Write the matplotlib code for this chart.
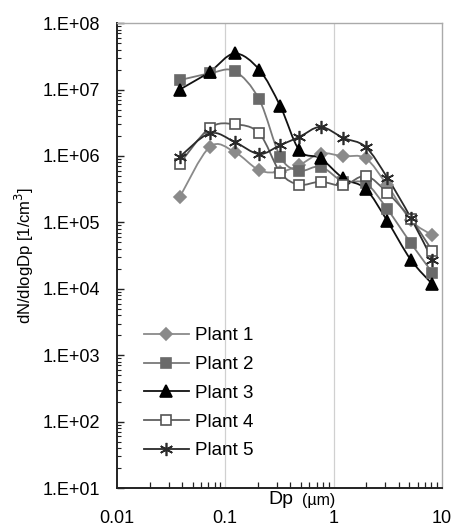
import numpy as np
import matplotlib
matplotlib.use('Agg')
import matplotlib.pyplot as plt
from matplotlib.path import Path
from matplotlib.patches import PathPatch
from matplotlib.lines import Line2D
from matplotlib.ticker import LogLocator, FixedLocator, NullFormatter

plt.rcParams['font.family'] = ['Liberation Sans', 'DejaVu Sans']

# particle diameter (um) and dN/dlogDp for each plant
dp = [0.038, 0.072, 0.122, 0.206, 0.323, 0.484, 0.76, 1.23, 1.98, 3.14, 5.16, 8.2]
plant1 = [2.4e5, 1.37e6, 1.15e6, 6.1e5, 5.8e5, 7.3e5, 1.09e6, 9.9e5, 9.2e5, 3.6e5, 1.08e5, 6.4e4]
plant2 = [1.39e7, 1.75e7, 1.9e7, 7.1e6, 9.7e5, 6.0e5, 6.9e5, 4.1e5, 3.9e5, 1.58e5, 4.9e4, 1.74e4]
plant3 = [1.0e7, 1.85e7, 3.5e7, 2.0e7, 5.6e6, 1.22e6, 9.2e5, 4.6e5, 3.2e5, 1.05e5, 2.75e4, 1.17e4]
plant4 = [7.7e5, 2.65e6, 3.0e6, 2.2e6, 5.6e5, 3.7e5, 4.1e5, 3.6e5, 5.0e5, 2.8e5, 1.14e5, 3.7e4]
plant5 = [9.7e5, 2.2e6, 1.63e6, 1.07e6, 1.46e6, 1.94e6, 2.74e6, 1.87e6, 1.37e6, 4.7e5, 1.18e5, 2.7e4]

labels = ['Plant 1', 'Plant 2', 'Plant 3', 'Plant 4', 'Plant 5']
series = [plant1, plant2, plant3, plant4, plant5]

# line colour, marker, face, edge, size
styles = [
    ('#8a8a8a', 'D', '#8a8a8a', '#8a8a8a', 6.3),
    ('#7a7a7a', 's', '#6a6a6a', '#6a6a6a', 6.8),
    ('#111111', '^', '#000000', '#000000', 8.3),
    ('#606060', 's', 'white', '#555555', 6.8),
    ('#2a2a2a', (6, 2, 0), '#2a2a2a', '#2a2a2a', 9.5),
]


def smooth_path(x, y):
    # cubic Bezier through the points, control points taken in log-log space
    lx, ly = np.log10(x), np.log10(y)
    pts = np.column_stack([lx, ly])
    n = len(pts)
    verts = [pts[0]]
    codes = [Path.MOVETO]
    for i in range(n - 1):
        p0 = pts[i - 1] if i > 0 else pts[i]
        p1, p2 = pts[i], pts[i + 1]
        p3 = pts[i + 2] if i + 2 < n else pts[i + 1]
        c1 = p1 + (p2 - p0) / 6.0
        c2 = p2 - (p3 - p1) / 6.0
        verts += [c1, c2, p2]
        codes += [Path.CURVE4] * 3
    verts = 10 ** np.array(verts)
    return Path(verts, codes)


fig = plt.figure(figsize=(4.55, 5.27), dpi=100)
ax = fig.add_axes([0.257, 0.074, 0.714, 0.882])
ax.set_xscale('log')
ax.set_yscale('log')
ax.set_xlim(0.01, 10)
ax.set_ylim(10, 1e8)

handles = []
for vals, lab, (lc, mk, fc, ec, ms) in zip(series, labels, styles):
    ax.add_patch(PathPatch(smooth_path(dp, vals), facecolor='none',
                           edgecolor=lc, lw=1.3, zorder=2))
    ax.plot(dp, vals, linestyle='none', marker=mk, ms=ms, mfc=fc, mec=ec,
            mew=1.2, zorder=3)
    handles.append(Line2D([], [], color=lc, lw=1.3, marker=mk, ms=ms,
                          mfc=fc, mec=ec, mew=1.2))

ax.legend(handles, labels, loc='lower left', bbox_to_anchor=(0.025, 0.021),
          frameon=False, fontsize=13.5, handlelength=2.4, handletextpad=0.35,
          labelspacing=0.62, borderaxespad=0.6)

# vertical grid only at the inner decades
ax.xaxis.set_major_locator(FixedLocator([0.01, 0.1, 1, 10]))
ax.xaxis.set_minor_locator(LogLocator(base=10, subs=np.arange(2, 10), numticks=20))
ax.xaxis.set_minor_formatter(NullFormatter())
ax.set_xticklabels(['0.01', '0.1', '1', '10'])
for xv in [0.1, 1]:
    ax.axvline(xv, color='#d0d0d0', lw=0.9, zorder=0)

ax.yaxis.set_major_locator(LogLocator(base=10, numticks=12))
ax.yaxis.set_minor_locator(LogLocator(base=10, subs=np.arange(2, 10), numticks=20))
ax.yaxis.set_minor_formatter(NullFormatter())
yt = [10 ** k for k in range(1, 9)]
ax.set_yticks(yt)
ax.set_yticklabels([f'1.E+{k:02d}' for k in range(1, 9)])

ax.tick_params(which='both', direction='in', colors='#222222', labelcolor='black')
ax.tick_params(axis='x', which='major', length=0, pad=16, labelsize=13)
ax.tick_params(axis='x', which='minor', length=4, width=0.9)
ax.tick_params(axis='y', which='major', length=5, width=1.0, pad=12, labelsize=13)
ax.tick_params(axis='y', which='minor', length=3, width=0.8)
ax.tick_params(top=False, right=False, which='both')

for s in ['left', 'bottom']:
    ax.spines[s].set_color('#222222')
    ax.spines[s].set_linewidth(1.4)
for s in ['top', 'right']:
    ax.spines[s].set_color('#aaaaaa')
    ax.spines[s].set_linewidth(1.0)

ax.set_ylabel('dN/dlogDp [1/cm$^3$]', fontsize=12, labelpad=5)
fig.text(0.644, 0.052, 'Dp', fontsize=14, ha='right', va='center')
fig.text(0.664, 0.050, '(\u00b5m)', fontsize=11.5, ha='left', va='center')

fig.savefig('out.png', dpi=100)
